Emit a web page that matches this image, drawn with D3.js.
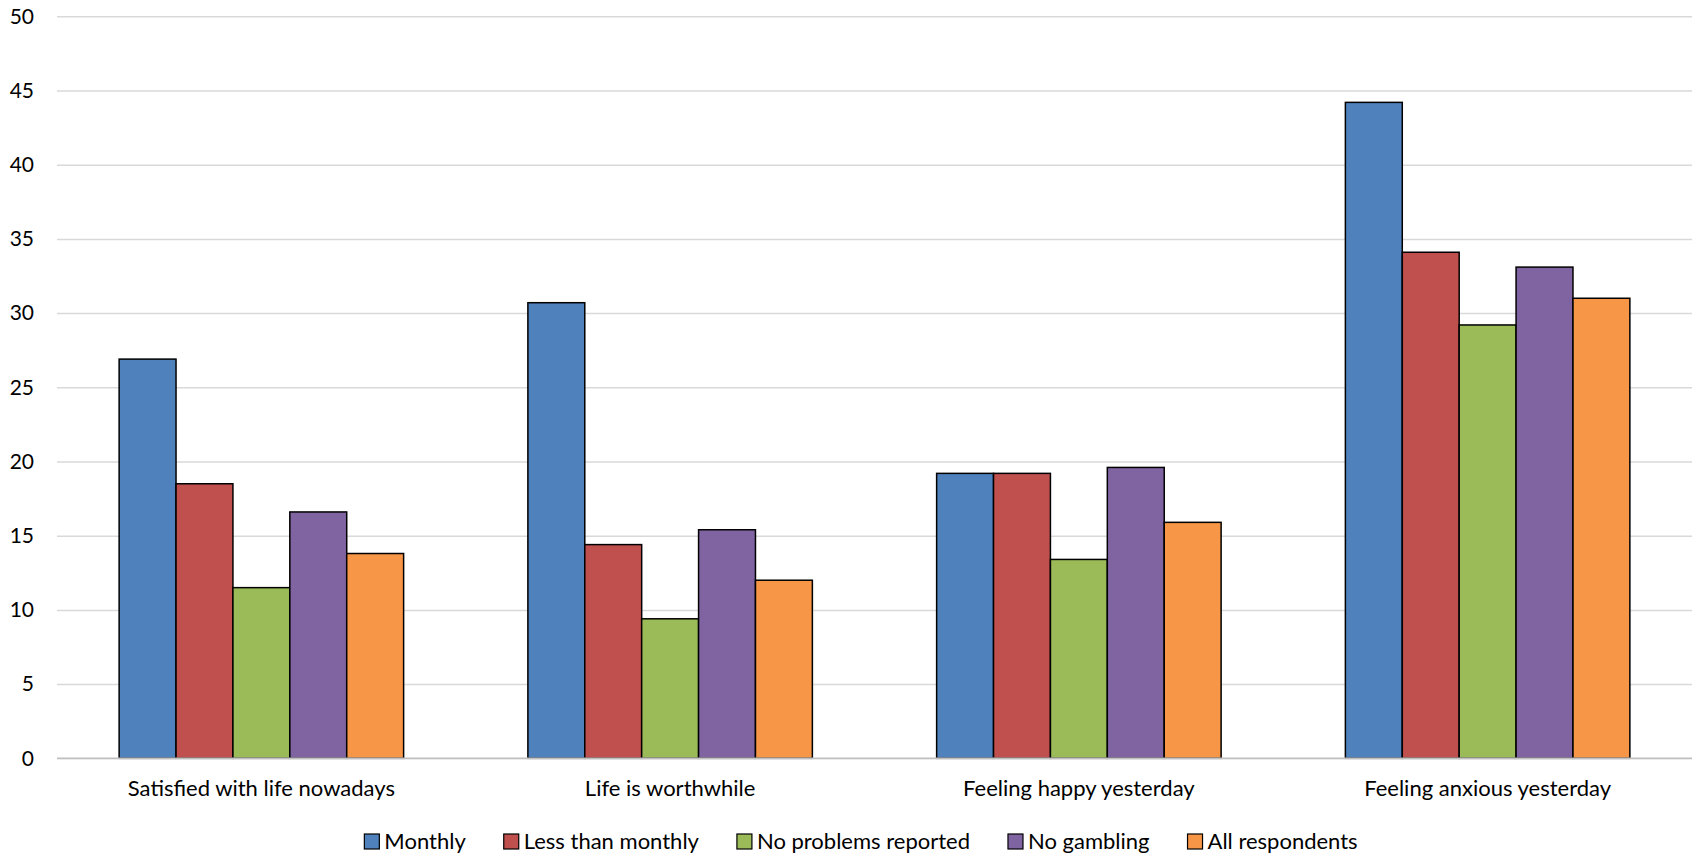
<!DOCTYPE html>
<html>
<head>
<meta charset="utf-8">
<script src="https://cdn.jsdelivr.net/npm/d3@7"></script>
<style>
  html, body { margin: 0; padding: 0; background: #ffffff; }
  svg { display: block; }
  text { font-family: Lato, "Open Sans", sans-serif; fill: #000; }
</style>
</head>
<body>
<svg id="chart" width="1696" height="856"></svg>
<script>
// Category labels along the x axis
const categories = [
  "Satisfied with life nowadays",
  "Life is worthwhile",
  "Feeling happy yesterday",
  "Feeling anxious yesterday"
];

// Series names (legend order)
const seriesNames = ["Monthly", "Less than monthly", "No problems reported", "No gambling", "All respondents"];

// One value per category for each series
const monthly          = [26.9, 30.7, 19.2, 44.2];
const lessThanMonthly  = [18.5, 14.4, 19.2, 34.1];
const noProblems       = [11.5,  9.4, 13.4, 29.2];
const noGambling       = [16.6, 15.4, 19.6, 33.1];
const allRespondents   = [13.8, 12.0, 15.9, 31.0];

const seriesValues = [monthly, lessThanMonthly, noProblems, noGambling, allRespondents];
const seriesColors = ["#4F81BD", "#C0504D", "#9BBB59", "#8064A2", "#F79646"];

// Y axis ticks
const yTicks = [0, 5, 10, 15, 20, 25, 30, 35, 40, 45, 50];

const svg = d3.select("#chart");
const plot = { left: 57, right: 1692, top: 16.3, bottom: 758.3 };

const y = d3.scaleLinear().domain([0, 50]).range([plot.bottom, plot.top]);

const x0 = d3.scaleBand()
  .domain(categories)
  .range([plot.left, plot.right])
  .paddingInner(0.304)
  .paddingOuter(0.152);

const x1 = d3.scaleBand()
  .domain(seriesNames)
  .range([0, x0.bandwidth()]);

// Horizontal gridlines
const yAxis = d3.axisLeft(y)
  .tickValues(yTicks)
  .tickSize(-(plot.right - plot.left))
  .tickPadding(23)
  .tickFormat(d3.format("d"));

const yAxisG = svg.append("g")
  .attr("transform", `translate(${plot.left},0)`)
  .call(yAxis);
yAxisG.select(".domain").remove();
yAxisG.selectAll(".tick line")
  .attr("stroke", "#d9d9d9")
  .attr("stroke-width", 1.5);
yAxisG.selectAll(".tick text")
  .attr("font-size", 21)
  .attr("font-family", "Lato, 'Open Sans', sans-serif")
  .attr("fill", "#000");

// Bars
const rows = categories.map((c, i) => ({
  category: c,
  values: seriesNames.map((s, j) => ({ series: s, value: seriesValues[j][i], color: seriesColors[j] }))
}));

const groups = svg.append("g")
  .selectAll("g")
  .data(rows)
  .join("g")
  .attr("transform", d => `translate(${x0(d.category)},0)`);

groups.selectAll("rect")
  .data(d => d.values)
  .join("rect")
  .attr("x", d => x1(d.series))
  .attr("y", d => y(d.value))
  .attr("width", x1.bandwidth())
  .attr("height", d => y(0) - y(d.value))
  .attr("fill", d => d.color)
  .attr("stroke", "#000")
  .attr("stroke-width", 1.5);

// Baseline along zero
svg.append("line")
  .attr("x1", plot.left).attr("x2", plot.right)
  .attr("y1", y(0)).attr("y2", y(0))
  .attr("stroke", "#bfbfbf")
  .attr("stroke-width", 1.5);

// Category labels
const xAxis = d3.axisBottom(x0).tickSize(0).tickPadding(0);
const xAxisG = svg.append("g")
  .attr("transform", `translate(0,${y(0)})`)
  .call(xAxis);
xAxisG.select(".domain").remove();
xAxisG.selectAll(".tick text")
  .attr("font-size", 22)
  .attr("font-family", "Lato, 'Open Sans', sans-serif")
  .attr("fill", "#000")
  .attr("dy", null)
  .attr("y", 38);

// Legend
const legend = svg.append("g");
const items = legend.selectAll("g")
  .data(seriesNames.map((s, j) => ({ name: s, color: seriesColors[j] })))
  .join("g");

items.append("rect")
  .attr("width", 15).attr("height", 15)
  .attr("y", 834)
  .attr("fill", d => d.color)
  .attr("stroke", "#000")
  .attr("stroke-width", 1.2);

items.append("text")
  .attr("x", 20)
  .attr("y", 849)
  .attr("font-size", 22)
  .text(d => d.name);

let cursor = 0;
const offsets = [];
items.each(function () {
  const w = this.querySelector("text").getComputedTextLength();
  offsets.push(cursor);
  cursor += 20 + w + 38;
});
const totalWidth = cursor - 38;
const startX = 861 - totalWidth / 2;
items.attr("transform", (d, i) => `translate(${startX + offsets[i]},0)`);
</script>
</body>
</html>
